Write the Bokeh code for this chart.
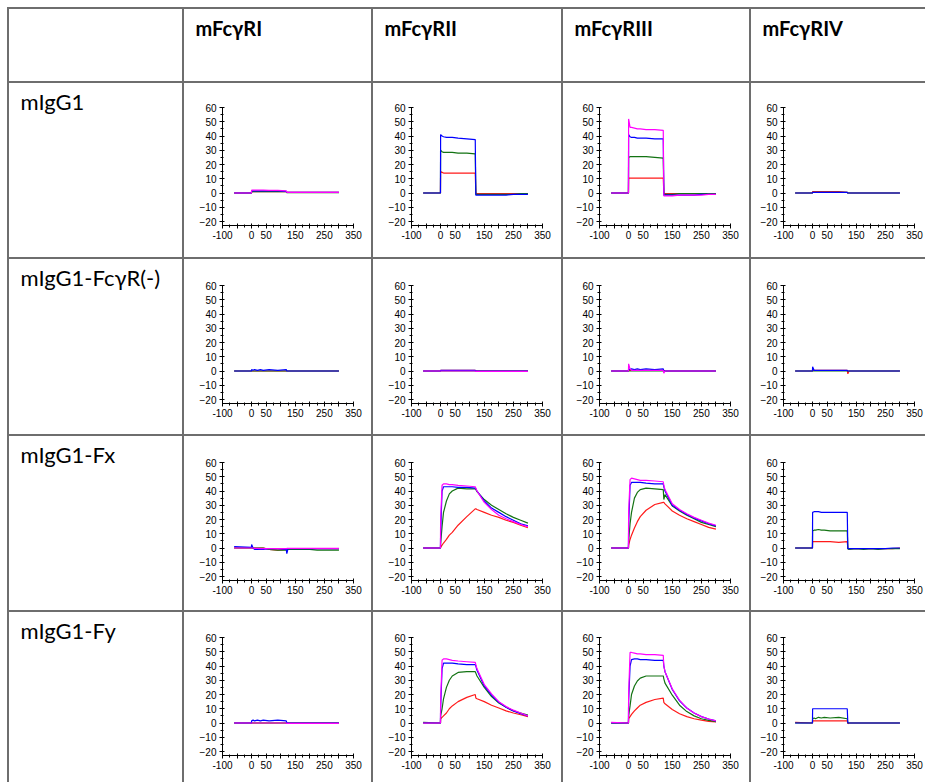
from bokeh.plotting import figure
from bokeh.layouts import row, column
from bokeh.models import Spacer, Range1d, FixedTicker
from bokeh.embed import file_html
from bokeh.resources import INLINE
from bokeh.core.properties import value

# ---------------- data ----------------
receptors = ["mFcγRI", "mFcγRII", "mFcγRIII", "mFcγRIV"]
antibodies = ["mIgG1", "mIgG1-FcγR(-)", "mIgG1-Fx", "mIgG1-Fy"]

time_s = [-60, -0.5, 0, 5, 10, 20, 30, 40, 60, 90, 119, 121, 125, 150, 175, 200, 225, 250, 275, 300]

y_ticks = [-20, -10, 0, 10, 20, 30, 40, 50, 60]
y_minor = [-20, -15, -10, -5, 0, 5, 10, 15, 20, 25, 30, 35, 40, 45, 50, 55, 60]
x_ticks = [-100, -50, 0, 50, 100, 150, 200, 250, 300, 350]
x_tick_labels = ["-100", "", "0", "50", "", "150", "", "250", "", "350"]
x_minor = [-100, -75, -50, -25, 0, 25, 50, 75, 100, 125, 150, 175, 200, 225, 250, 275, 300, 325, 350]

# mIgG1
igg1_ri = dict(
    red=[0, 0, 1, 1, 1, 1, 1, 1, 1, 1, 1, 0.5, 0.5, 0.5, 0.5, 0.5, 0.5, 0.5, 0.5, 0.5],
    green=[0, 0, 1, 1, 1, 1, 1, 1, 1, 1, 1, 0.3, 0.3, 0.3, 0.3, 0.3, 0.3, 0.3, 0.3, 0.3],
    blue=[0, 0, 1.5, 1.5, 1.5, 1.5, 1.5, 1.5, 1.5, 1.5, 1.2, 0.5, 0.5, 0.5, 0.5, 0.5, 0.5, 0.5, 0.5, 0.5],
    magenta=[0, 0, 2, 2, 2, 2, 2, 2, 1.8, 1.8, 1.5, 0.5, 0.5, 0.5, 0.5, 0.5, 0.5, 0.5, 0.5, 0.5],
)
igg1_rii = dict(
    red=[0, 0, 15, 14.5, 14, 14, 14, 14, 14, 14, 14, 0, -0.5, -0.5, -0.5, -0.5, -0.5, -0.5, -0.5, -0.5],
    green=[0, 0, 30, 29, 28.5, 28.5, 28.5, 28.5, 28, 28, 27.5, -1, -1, -1, -1, -1, -1, -1, -0.5, -0.5],
    blue=[0, 0, 41, 40, 39.5, 39, 39, 39, 38.5, 38, 37.5, -1.5, -1.5, -1.5, -1.5, -1.5, -1.5, -1, -1, -1],
)
igg1_riii = dict(
    red=[0, 0, 10.5, 10.5, 10.5, 10.5, 10.5, 10.5, 10.5, 10.5, 10.5, 0, -0.5, -0.5, -0.5, -0.5, -0.5, -0.5, -0.5, -0.5],
    green=[0, 0, 25, 25.5, 25.5, 25.5, 25.5, 25.5, 25.5, 25, 24.5, -1, -1, -1, -0.5, -0.5, -0.5, -0.5, -0.5, -0.5],
    blue=[0, 0, 41, 39.5, 39, 39, 38.5, 38.5, 38.5, 38, 38, -1.5, -1.5, -1.5, -1.5, -1.5, -1.5, -1, -1, -1],
    magenta=[0, 0, 52, 46, 46, 45.5, 45, 45, 44.5, 44.5, 44, -2, -2, -2, -1.5, -1.5, -1.5, -1.5, -1, -1],
)
igg1_riv = dict(
    red=[0, 0, 1, 1, 1, 1, 1, 1, 1, 1, 0.5, 0, 0, 0, 0, 0, 0, 0, 0, 0],
    green=[0, 0, 0.5, 0.5, 0.5, 0.5, 0.5, 0.5, 0.5, 0.5, 0.5, 0, 0, 0, 0, 0, 0, 0, 0, 0],
    blue=[0, 0, 0.5, 0.5, 0.5, 0.5, 0.5, 0.5, 0.5, 0.5, 0.5, 0, 0, 0, 0, 0, 0, 0, 0, 0],
)

# mIgG1-FcγR(-)
null_ri = dict(
    red=[0, 0, 0, 0, 0, 0, 0, 0, 0, 0, 0, 0, 0, 0, 0, 0, 0, 0, 0, 0],
    green=[0, 0, 0, 0, 0, 0, 0, 0, 0, 0, 0, 0, 0, 0, 0, 0, 0, 0, 0, 0],
    blue=[0, 0, 1, 0.5, 1, 0.5, 1, 0.5, 1, 0.5, 1, 0, 0, 0, 0, 0, 0, 0, 0, 0],
)
null_rii = dict(
    red=[0, 0, 0.5, 0.5, 0.5, 0.5, 0.5, 0.5, 0.5, 0.5, 0.5, 0, 0, 0, 0, 0, 0, 0, 0, 0],
    green=[0, 0, 0, 0, 0, 0, 0, 0, 0, 0, 0, 0, 0, 0, 0, 0, 0, 0, 0, 0],
    blue=[0, 0, 0.5, 0.5, 0.5, 0.5, 0.5, 0.5, 0.5, 0.5, 0.5, 0, 0, 0, 0, 0, 0, 0, 0, 0],
    magenta=[0, 0, 0, 0, 0, 0, 0, 0, 0, 0, 0, -0.3, -0.3, -0.3, -0.3, -0.3, -0.3, -0.3, -0.3, -0.3],
)
null_riii = dict(
    red=[0, 0, 0.5, 0.5, 0.5, 0.5, 0.5, 0.5, 0.5, 0.5, 0.5, 0, 0, 0, 0, 0, 0, 0, 0, 0],
    green=[0, 0, 0, 0, 0, 0, 0, 0, 0, 0, 0, 0, 0, 0, 0, 0, 0, 0, 0, 0],
    magenta=[0, 0, 5, 1.5, 0.5, 0.5, 0.5, 0.5, 0.5, 0.5, 0.5, -1.5, 0, 0, 0, 0, 0, 0, 0, 0],
    blue=[0, 0, 1.5, 1, 1.5, 1, 1.5, 1, 1.5, 1, 1.5, 0, 0, 0, 0, 0, 0, 0, 0, 0],
)
null_riv = dict(
    red=[0, 0, 0.5, 0.5, 0.5, 0.5, 0.5, 0.5, 0.5, 0.5, 0.5, -2, 0, 0, 0, 0, 0, 0, 0, 0],
    green=[0, 0, 0, 0, 0, 0, 0, 0, 0, 0, 0, 0, 0, 0, 0, 0, 0, 0, 0, 0],
    blue=[0, 0, 3, 0.5, 0.5, 0.5, 0.5, 0.5, 0.5, 0.5, 0.5, 0, 0, 0, 0, 0, 0, 0, 0, 0],
)

# mIgG1-Fx
fx_ri = dict(
    red=[0, 0, 0, 0, 0, 0, 0, 0, -1, -1.5, -1, -0.5, -0.5, -0.5, -0.5, -0.5, -0.5, -0.5, -0.5, -0.5],
    green=[0, 0, 0, 0, 0, 0, 0, 0, -1, -1.5, -1.5, -1.5, -1, -1, -1, -1, -1.5, -1.5, -1.5, -1.5],
    blue=[1, 0.5, 2.5, 0, -1, -1, -1, -1, -0.5, -0.5, -1, -4, -0.5, -0.5, -0.5, -0.5, -0.5, -0.5, -0.5, -0.5],
    magenta=[0, 0, 0, 0, -0.3, -0.3, -0.5, -0.5, -0.5, -0.5, -0.5, -0.3, -0.3, -0.3, -0.3, -0.3, -0.3, -0.3, -0.3, -0.3],
)
fx_rii = dict(
    red=[0, 0, 0.5, 2, 3.5, 6, 9, 11, 16, 22, 27.5, 27.5, 27, 25, 23, 21.5, 19.5, 18, 16, 14.2],
    green=[0, 0, 3, 15, 25, 33, 38, 40, 42, 41.5, 41.5, 41, 39.5, 34, 30, 27, 24, 21.5, 19.5, 17.5],
    blue=[0, 0, 10, 40, 43, 43, 43, 43, 42.5, 42.5, 42, 41.5, 40, 33, 28, 25, 22, 19.5, 17, 15.5],
    magenta=[0, 0, 20, 44, 45, 45, 44.5, 44.5, 44, 43.5, 43, 42, 40, 32, 27, 23, 20.5, 18.5, 16.5, 15],
)
fx_riii = dict(
    red=[0, 0, 2, 6, 9, 14, 18.5, 22, 26.5, 30.5, 32, 32, 31, 26, 23, 20.5, 18.5, 16.5, 14.5, 13.3],
    green=[0, 0, 5, 17, 25, 35, 39, 41, 42, 41.5, 41, 34, 37.5, 29.5, 26, 23, 20.5, 18, 16.5, 15],
    blue=[0, 0, 15, 44, 46, 46, 46, 46, 45.5, 45, 45, 43, 40, 30, 26.5, 23.5, 21, 19, 17, 15.5],
    magenta=[0, 0, 25, 48, 49, 48.5, 48, 47.5, 47.5, 47, 46.5, 44, 41, 31, 27, 24, 21.5, 19.5, 17.5, 16],
)
fx_riv = dict(
    red=[0, 0, 4.5, 4.5, 4.5, 4.5, 4.5, 4.5, 4.5, 4, 4.5, -0.5, -0.5, -0.5, -0.5, -0.5, -0.5, -0.5, -0.5, 0],
    green=[0, 0, 12, 12.5, 12.5, 13, 12.5, 12.5, 12, 12, 12, -0.5, -1, -0.5, -1, -0.5, -1, -0.5, -0.5, -0.5],
    blue=[0, 0, 25, 25.5, 25.5, 25.5, 25, 25, 25, 25, 25, -0.5, -0.5, -0.5, -0.5, -0.5, -0.5, -0.5, 0, 0],
)

# mIgG1-Fy
fy_ri = dict(
    red=[0, 0, 0, 0, 0, 0, 0, 0, 0, 0, 0, 0, 0, 0, 0, 0, 0, 0, 0, 0],
    green=[0, 0, 0, 0, 0, 0, 0, 0, 0, 0, 0, 0, 0, 0, 0, 0, 0, 0, 0, 0],
    blue=[0, 0, 1.5, 2, 1.5, 2, 1.5, 2, 1.5, 2, 1.5, 0, 0, 0, 0, 0, 0, 0, 0, 0],
    magenta=[0, 0, 0, 0, 0, 0, 0, 0, 0, 0, 0, -0.3, -0.3, -0.3, -0.3, -0.3, -0.3, -0.3, -0.3, -0.3],
)
fy_rii = dict(
    red=[0, 0, 3, 4, 5, 7, 10, 12, 15, 18, 20, 17.5, 17, 15, 12.5, 10.5, 8.5, 7, 5.8, 4.5],
    green=[0.5, 0, 5, 10, 17, 25, 30, 33, 35.5, 36, 36, 35, 33, 25, 18.5, 14, 11, 8.5, 7, 5.5],
    blue=[0, 0, 10, 38, 42, 42, 42, 42, 41.5, 41, 41, 40, 37, 26, 19.5, 14.5, 11, 8.5, 6.5, 5],
    magenta=[0, 0, 15, 44, 45, 45, 44.5, 44, 43.5, 43, 42.5, 41, 38, 27, 20.5, 15, 11.5, 9, 7, 5],
)
fy_riii = dict(
    red=[0, 0, 3, 4.5, 6, 8.5, 10.5, 12.5, 14.5, 16.5, 17.5, 14.5, 13.5, 9.5, 6.5, 4.5, 3, 2, 1.2, 0.8],
    green=[0, 0, 5, 12, 20, 26, 29.5, 31.5, 33, 33, 33, 31, 28, 19.5, 12.5, 8, 5, 3, 1.8, 1],
    blue=[0, 0, 15, 40, 44.5, 45, 45, 44.5, 44.5, 44, 44, 40, 36, 23.5, 15.5, 10.5, 7, 4.5, 2.8, 1.5],
    magenta=[0.5, 0, 20, 49.5, 49.5, 49, 48.5, 48.5, 48, 48, 47.5, 40, 36, 24, 16, 10.5, 7, 4.5, 2.8, 1.5],
)
fy_riv = dict(
    red=[0.5, 0, 1.5, 1.5, 1.5, 1.5, 1.5, 1.5, 1.5, 1.5, 1.5, -0.5, 0, 0, 0, 0, 0, 0, 0, 0],
    green=[0, 0, 3, 3.5, 3, 4, 3.5, 4, 3.5, 4, 3, 0, 0, 0, 0, 0, 0, 0, 0, 0],
    blue=[0, 0, 10, 10, 10, 10, 10, 10, 10, 10, 10, 0, 0, 0, 0, 0, 0, 0, 0, 0],
)

panels = [
    [igg1_ri, igg1_rii, igg1_riii, igg1_riv],
    [null_ri, null_rii, null_riii, null_riv],
    [fx_ri, fx_rii, fx_riii, fx_riv],
    [fy_ri, fy_rii, fy_riii, fy_riv],
]

# ---------------- styling / layout ----------------
colors = dict(red="#ff1a1a", green="#137313", blue="#0000ff", magenta="#ff00ff")
order = ["red", "green", "blue", "magenta"]

col_widths = [173, 187, 188, 186, 174]
row_heights = [72, 174, 175, 174, 170]
plot_left = [38, 38, 36, 32]
plot_top = [24, 26, 26, 25]
FRAME_W, FRAME_H = 131, 118
TICK_FONT = "Liberation Sans"
CELL_FONT = "Lato"
TEXT_X = 11
TEXT_Y = 18
WHITE = {"background-color": "white"}


def text_cell(txt, w, h, bold, size):
    p = figure(width=w, height=h, x_range=Range1d(0, w), y_range=Range1d(h, 0),
               x_axis_type=None, y_axis_type=None, min_border=0,
               output_backend="svg", toolbar_location=None,
               background_fill_color=None, border_fill_color=None,
               outline_line_color=None, styles=WHITE)
    p.grid.visible = False
    if txt:
        p.text(x=[TEXT_X], y=[TEXT_Y], text=[txt], text_font=value(CELL_FONT),
               text_font_size=size, text_font_style="bold" if bold else "normal",
               text_color="#000000", text_baseline="alphabetic", text_align="left")
    return p


def plot_cell(series, w, h, left, top):
    p = figure(width=w, height=h, x_range=Range1d(-100, 350), y_range=Range1d(-22.8, 60),
               output_backend="svg", toolbar_location=None,
               min_border_left=left, min_border_top=top,
               min_border_right=w - left - FRAME_W, min_border_bottom=h - top - FRAME_H,
               background_fill_color=None, border_fill_color=None,
               outline_line_color=None, styles=WHITE)
    p.grid.visible = False
    for name in order:
        if name in series:
            p.line(time_s, series[name], line_color=colors[name], line_width=1.2)
    xa = p.xaxis[0]
    xa.ticker = FixedTicker(ticks=x_ticks, minor_ticks=x_minor)
    xa.major_label_overrides = {t: lab for t, lab in zip(x_ticks, x_tick_labels)}
    ya = p.yaxis[0]
    ya.ticker = FixedTicker(ticks=y_ticks, minor_ticks=y_minor)
    for ax in (xa, ya):
        ax.axis_line_color = "black"
        ax.axis_line_width = 1
        ax.major_tick_line_color = "black"
        ax.minor_tick_line_color = "black"
        ax.major_tick_in = 2
        ax.major_tick_out = 3
        ax.minor_tick_in = 1
        ax.minor_tick_out = 2
        ax.major_label_text_font = TICK_FONT
        ax.major_label_text_font_size = "10px"
        ax.major_label_text_color = "black"
    xa.major_label_standoff = 2
    ya.major_label_standoff = 3
    return p


# header row (text only)
header = [Spacer(width=0, height=row_heights[0]),
          text_cell("", col_widths[0], row_heights[0], False, "20px")]
for j, rec in enumerate(receptors):
    header.append(text_cell(rec, col_widths[j + 1], row_heights[0], True, "20px"))
header_row = row(*header, spacing=2)

# first column: row labels
label_col = column(*[text_cell(ab, col_widths[0], row_heights[i + 1], False, "22px")
                     for i, ab in enumerate(antibodies)], spacing=2)

# plot block
plot_rows = []
for i in range(len(antibodies)):
    h = row_heights[i + 1]
    plot_rows.append(row(*[plot_cell(panels[i][j], col_widths[j + 1], h, plot_left[j], plot_top[i])
                           for j in range(4)], spacing=2))
plot_block = column(*plot_rows, spacing=2)

body = row(Spacer(width=0, height=0), label_col, plot_block, spacing=2)

table = column(Spacer(width=0, height=0), header_row, body, spacing=2,
               styles={"background-color": "#6e6e6e"})

page = column(Spacer(width=0, height=7), row(Spacer(width=7, height=0), table))

open("out.html", "w").write(file_html(page, INLINE))
